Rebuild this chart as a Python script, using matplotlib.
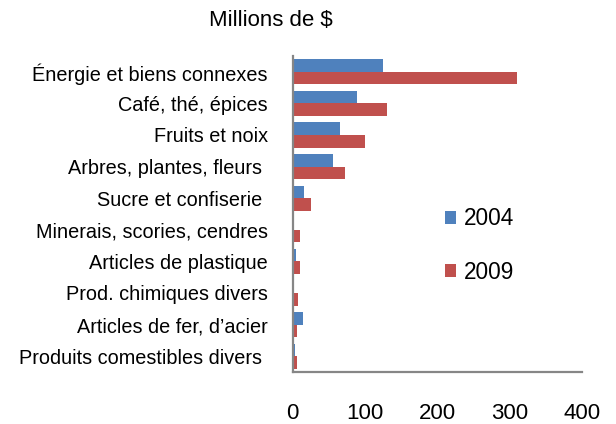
import numpy as np
import matplotlib.pyplot as plt

plt.rcParams['font.family'] = ['Liberation Sans', 'DejaVu Sans']

categories = ['Énergie et biens connexes', 'Café, thé, épices', 'Fruits et noix',
              'Arbres, plantes, fleurs ', 'Sucre et confiserie ',
              'Minerais, scories, cendres', 'Articles de plastique',
              'Prod. chimiques divers', 'Articles de fer, d\u2019acier',
              'Produits comestibles divers ']
v2004 = [125, 89, 66, 56, 16, 0, 4.5, 0, 14, 3]
v2009 = [310, 131, 100, 72, 25, 10, 10, 8, 5.5, 5.5]
xticks = [0, 100, 200, 300, 400]

blue = '#4F81BD'
red = '#C0504D'

fig = plt.figure(figsize=(6.16, 4.24), dpi=100)
ax = fig.add_axes([292.7/616, 1-372/424, 289/616, 316/424])

y = np.arange(len(categories))
h = 0.4
ax.barh(y - h/2, v2004, height=h, color=blue, label='2004')
ax.barh(y + h/2, v2009, height=h, color=red, label='2009')

ax.set_ylim(len(categories) - 0.5, -0.5)
ax.set_xlim(0, 400)
ax.set_yticks(y)
ax.set_yticklabels(categories, fontsize=14.3)
ax.set_xticks(xticks)
ax.set_xticklabels([str(t) for t in xticks], fontsize=16)
ax.tick_params(axis='y', length=0, pad=18)
ax.tick_params(axis='x', length=0, pad=22)

for s in ['top', 'right']:
    ax.spines[s].set_visible(False)
for s in ['left', 'bottom']:
    ax.spines[s].set_color('#868686')
    ax.spines[s].set_linewidth(1.6)

leg = ax.legend(loc='upper left', bbox_to_anchor=(0.495, 0.55), frameon=False,
                fontsize=16.3, handlelength=0.5, handleheight=0.5,
                handletextpad=0.35, labelspacing=1.35, borderaxespad=0)

fig.text(271/616, 1-21/424, 'Millions de $', ha='center', va='center', fontsize=16)

fig.savefig('out.png', dpi=100)
